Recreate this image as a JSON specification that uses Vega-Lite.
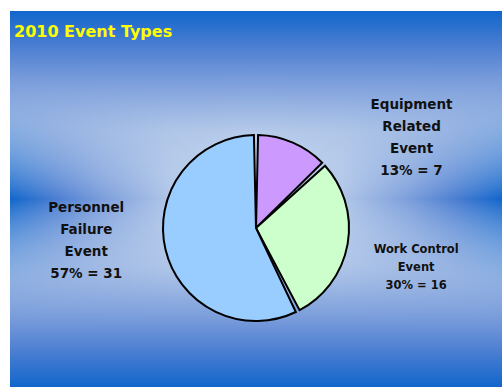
{
  "$schema": "https://vega.github.io/schema/vega-lite/v6.json",
  "width": 492,
  "height": 434,
  "autosize": {"type": "none"},
  "padding": {"left": 10, "top": 11, "right": 0, "bottom": -58},
  "background": "#ffffff",
  "config": {"view": {"stroke": null}},
  "title": {
    "text": "2010 Event Types",
    "anchor": "start",
    "frame": "group",
    "offset": -42,
    "dx": 4,
    "baseline": "alphabetic",
    "color": "#ffff00",
    "font": "DejaVu Sans",
    "fontSize": 16,
    "fontWeight": "bold"
  },
  "data": {
    "values": [
      {"category": "Equipment Related Event", "count": 7, "order": 1, "label": "Equipment\nRelated\nEvent\n13% = 7"},
      {"category": "Work Control Event", "count": 16, "order": 2, "label": "Work Control\nEvent\n30% = 16"},
      {"category": "Personnel Failure Event", "count": 31, "order": 3, "label": "Personnel\nFailure\nEvent\n57% = 31"}
    ]
  },
  "layer": [
    {
      "mark": {
        "type": "rect",
        "color": {
          "gradient": "linear",
          "x1": 0, "y1": 0, "x2": 1, "y2": 0,
          "stops": [
            {"offset": 0, "color": "#1166cc"},
            {"offset": 0.1, "color": "#4f80d2"},
            {"offset": 0.185, "color": "#7a9ddb"},
            {"offset": 0.325, "color": "#b0c6e8"},
            {"offset": 0.5, "color": "#c8d8f0"},
            {"offset": 0.675, "color": "#b0c6e8"},
            {"offset": 0.815, "color": "#7a9ddb"},
            {"offset": 0.9, "color": "#4f80d2"},
            {"offset": 1, "color": "#1166cc"}
          ]
        }
      },
      "encoding": {}
    },
    {
      "mark": {
        "type": "rect",
        "color": {
          "gradient": "linear",
          "x1": 0, "y1": 0, "x2": 0, "y2": 1,
          "stops": [
            {"offset": 0, "color": "rgba(17,102,204,1)"},
            {"offset": 0.087, "color": "rgba(79,128,210,1)"},
            {"offset": 0.16, "color": "rgba(122,157,219,0.8)"},
            {"offset": 0.28, "color": "rgba(176,198,232,0.35)"},
            {"offset": 0.433, "color": "rgba(200,216,240,0)"},
            {"offset": 0.586, "color": "rgba(176,198,232,0.35)"},
            {"offset": 0.706, "color": "rgba(122,157,219,0.8)"},
            {"offset": 0.779, "color": "rgba(79,128,210,1)"},
            {"offset": 0.866, "color": "rgba(17,102,204,1)"},
            {"offset": 1, "color": "rgba(17,102,204,1)"}
          ]
        }
      },
      "encoding": {}
    },
    {
      "mark": {"type": "arc", "outerRadius": 93, "padAngle": 0.045, "stroke": "#000000", "strokeWidth": 2},
      "encoding": {
        "theta": {"field": "count", "type": "quantitative", "stack": true},
        "order": {"field": "order", "type": "quantitative"},
        "color": {
          "field": "category",
          "type": "nominal",
          "scale": {
            "domain": ["Equipment Related Event", "Work Control Event", "Personnel Failure Event"],
            "range": ["#cc99ff", "#ccffcc", "#99ccff"]
          },
          "legend": null
        }
      }
    },
    {
      "mark": {"type": "text", "radius": 120, "dx": 108, "dy": -9, "align": "center", "baseline": "alphabetic", "lineBreak": "\n", "lineHeight": 22, "font": "DejaVu Sans", "fontSize": 13.5, "fontWeight": "bold", "fill": "#111111"},
      "encoding": {
        "theta": {"field": "count", "type": "quantitative", "stack": true},
        "order": {"field": "order", "type": "quantitative"},
        "text": {"condition": {"test": "datum.category === 'Equipment Related Event'", "field": "label"}, "value": ""}
      }
    },
    {
      "mark": {"type": "text", "radius": 120, "dx": 42, "dy": 4, "align": "center", "baseline": "alphabetic", "lineBreak": "\n", "lineHeight": 18, "font": "DejaVu Sans", "fontSize": 11.5, "fontWeight": "bold", "fill": "#111111"},
      "encoding": {
        "theta": {"field": "count", "type": "quantitative", "stack": true},
        "order": {"field": "order", "type": "quantitative"},
        "text": {"condition": {"test": "datum.category === 'Work Control Event'", "field": "label"}, "value": ""}
      }
    },
    {
      "mark": {"type": "text", "radius": 120, "dx": -53, "dy": -44, "align": "center", "baseline": "alphabetic", "lineBreak": "\n", "lineHeight": 22, "font": "DejaVu Sans", "fontSize": 13.5, "fontWeight": "bold", "fill": "#111111"},
      "encoding": {
        "theta": {"field": "count", "type": "quantitative", "stack": true},
        "order": {"field": "order", "type": "quantitative"},
        "text": {"condition": {"test": "datum.category === 'Personnel Failure Event'", "field": "label"}, "value": ""}
      }
    }
  ]
}
